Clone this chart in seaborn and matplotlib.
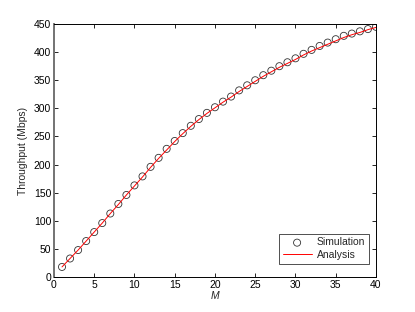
import matplotlib
matplotlib.use("Agg")
import matplotlib.pyplot as plt
import seaborn as sns
import pandas as pd

# Data
m_values = list(range(1, 41))
simulation = [18, 33, 48, 64, 80, 96, 113, 130, 146, 163,
              179, 196, 212, 228, 242, 256, 269, 281, 292, 302,
              312, 321, 332, 341, 350, 359, 367, 375, 382, 389,
              397, 404, 411, 417, 423, 429, 433, 437, 441, 445]
analysis = [18, 33, 48, 64, 80, 96, 113, 129, 146, 162,
            178, 195, 211, 226, 241, 255, 268, 280, 291, 301,
            311, 320, 330, 339, 348, 357, 365, 373, 380, 387,
            395, 402, 408, 414, 420, 426, 431, 435, 440, 444]
x_ticks = [0, 5, 10, 15, 20, 25, 30, 35, 40]
y_ticks = [0, 50, 100, 150, 200, 250, 300, 350, 400, 450]

df = pd.DataFrame({"M": m_values, "Simulation": simulation, "Analysis": analysis})

sns.set_style("white")
plt.rcParams["font.family"] = ["Liberation Sans", "DejaVu Sans"]
plt.rcParams["font.size"] = 7.5

fig = plt.figure(figsize=(4.15, 3.12), dpi=100)
ax = fig.add_axes([0.130, 0.112, 0.776, 0.811])

sns.scatterplot(data=df, x="M", y="Simulation", ax=ax, marker="o", s=26,
                facecolors="none", edgecolor="#333333", linewidth=0.6,
                label="Simulation", zorder=2)
sns.lineplot(data=df, x="M", y="Analysis", ax=ax, color="red", linewidth=0.7,
             label="Analysis", zorder=3)

ax.set_xlim(0, 40)
ax.set_ylim(0, 450)
ax.set_xticks(x_ticks)
ax.set_yticks(y_ticks)
ax.tick_params(direction="in", length=3, width=0.6, bottom=True, left=True,
               top=True, right=True, labelsize=7.5, pad=2, colors="black")
for side, sp in ax.spines.items():
    sp.set_color("black")
    sp.set_linewidth(0.7)
ax.spines["left"].set_color("0.45")
ax.spines["left"].set_linewidth(1.4)

ax.set_xlabel("M", fontstyle="italic", fontsize=7.5, labelpad=1)
ax.set_ylabel("Throughput (Mbps)", fontsize=7.5, labelpad=4)

leg = ax.legend(loc="lower right", bbox_to_anchor=(0.978, 0.053), fontsize=7.5,
                frameon=True, fancybox=False, edgecolor="black", borderaxespad=0,
                handlelength=2.8, handletextpad=0.5, borderpad=0.35,
                labelspacing=0.25)
leg.get_frame().set_linewidth(0.6)

fig.savefig("out.png", dpi=100)
plt.close(fig)
